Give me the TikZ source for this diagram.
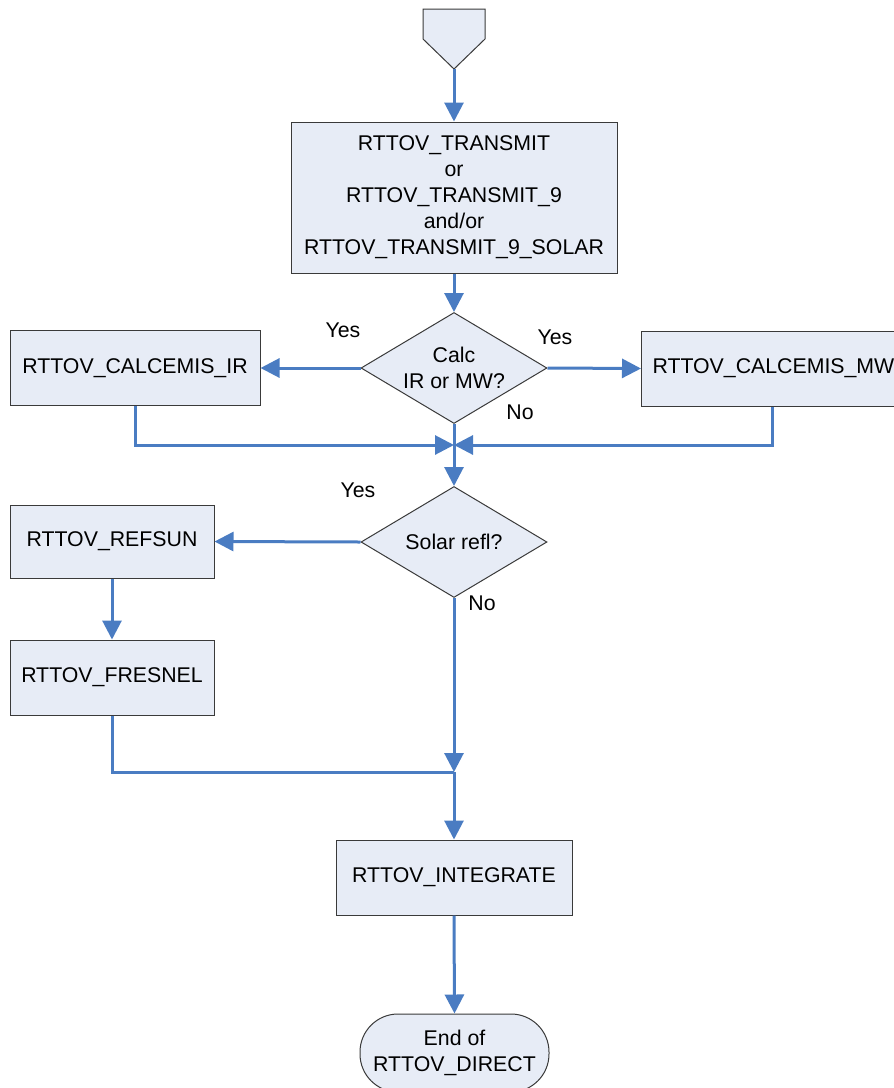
\documentclass[tikz,border=0pt]{standalone}
\usepackage{fontspec}
\setmainfont{Liberation Sans}
\usetikzlibrary{arrows.meta,shapes.geometric}
\definecolor{boxfill}{HTML}{E7ECF6}
\definecolor{boxline}{HTML}{3A3A3A}
\definecolor{flow}{HTML}{4A7CC2}
\tikzset{
  proc/.style={draw=boxline, line width=1pt, fill=boxfill, inner sep=0pt, align=center, font=\fontsize{21.3}{26}\selectfont},
  dec/.style={diamond, draw=boxline, line width=1pt, fill=boxfill, inner sep=0pt, minimum width=186pt, minimum height=111pt},
  lbl/.style={font=\fontsize{21.3}{26}\selectfont, inner sep=0pt, align=center},
  flowline/.style={draw=flow, line width=3pt},
  arr/.style={flowline, -{Triangle[length=19pt,width=19pt]}},
}
\begin{document}
\begin{tikzpicture}[x=1pt,y=-1pt]
\useasboundingbox (0,0) rectangle (894,1088);
% start off-page connector
\draw[draw=boxline, line width=1pt, fill=boxfill] (423,9) -- (485,9) -- (485,39) -- (454,69) -- (423,39) -- cycle;
\coordinate (start) at (454,69);
% boxes
\node[proc, minimum width=326pt, minimum height=151pt] (trans) at (454,197.5)
  {RTTOV\_TRANSMIT\\or\\RTTOV\_TRANSMIT\_9\\and/or\\RTTOV\_TRANSMIT\_9\_SOLAR};
\node[dec] (d1) at (454,368) {};
\node[lbl] at (d1) {Calc\\IR or MW?};
\node[proc, minimum width=250pt, minimum height=75pt] (ir) at (135,368) {RTTOV\_CALCEMIS\_IR};
\node[proc, anchor=west, minimum height=75pt, inner xsep=11pt, text width=250pt, align=left] (mw) at (641,368.5) {RTTOV\_CALCEMIS\_MW};
\coordinate (j1) at (454,445);
\node[dec] (d2) at (454,542) {};
\node[lbl] at (d2) {Solar refl?};
\node[proc, minimum width=204pt, minimum height=73pt] (refsun) at (112,541.5) {RTTOV\_REFSUN};
\node[proc, minimum width=204pt, minimum height=75pt] (fresnel) at (112,677.5) {RTTOV\_FRESNEL};
\coordinate (j2) at (454,772);
\node[proc, minimum width=236pt, minimum height=75pt] (integ) at (454,877.5) {RTTOV\_INTEGRATE};
\node[proc, rounded corners=38pt, minimum width=189pt, minimum height=78pt] (end) at (454.5,1053) {End of\\RTTOV\_DIRECT};
% labels
\node[lbl] at (343,330) {Yes};
\node[lbl] at (555,337) {Yes};
\node[lbl] at (520,412) {No};
\node[lbl] at (358,490) {Yes};
\node[lbl] at (482,603) {No};
% connectors
\draw[arr] (start) -- (trans.north);
\draw[arr] (trans.south) -- (d1.north);
\draw[arr] (d1.west) -- (ir.east);
\draw[arr] (d1.east) -- (mw.west);
\draw[arr] (ir.south) |- (j1);
\draw[arr] ([xshift=-5pt]mw.south) |- (j1);
\draw[arr] (d1.south) -- (d2.north);
\draw[arr] (d2.west) -- (refsun.east);
\draw[arr] (refsun.south) -- (fresnel.north);
\draw[flowline] (fresnel.south) |- (j2);
\draw[arr] (d2.south) -- (j2);
\draw[arr] (j2) -- (integ.north);
\draw[arr] (integ.south) -- (end.north);
\end{tikzpicture}
\end{document}
